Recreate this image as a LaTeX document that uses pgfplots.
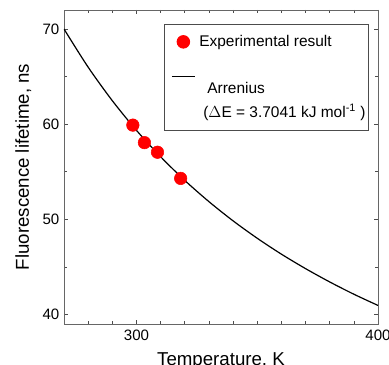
\documentclass[border=0pt]{standalone}
\usepackage{pgfplots}
\pgfplotsset{compat=1.18}
\usepackage{fontspec}
\setmainfont{Liberation Sans}
\pgfplotsset{
 padmark/.style={legend image code/.code={\path[draw=none,fill=none] (-4.75pt,0) rectangle (0.6cm,0);
   \draw[##1] plot[only marks] coordinates {(0.3cm,0cm)};}},
 padline/.style={legend image code/.code={\path[draw=none,fill=none] (-4.75pt,0) rectangle (0.6cm,0);
   \draw[##1] (0cm,0cm) -- (0.6cm,0cm);}},
}
\begin{document}
\begin{tikzpicture}
\begin{axis}[
  name=ax,
  scale only axis,
  width=235.5pt, height=235.5pt,
  xmin=270, xmax=400, ymin=39, ymax=72,
  xtick={300,400}, ytick={40,50,60,70},
  minor xtick={280,290,310,320,330,340,350,360,370,380,390},
  minor ytick={45,55,65},
  tick align=inside,
  major tick length=3pt, minor tick length=2.2pt,
  axis line style={black!60, line width=0.7pt},
  tick style={black!70, line width=0.5pt},
  /pgf/number format/assume math mode=true,
  tick label style={font=\fontsize{11.3pt}{13pt}\selectfont},
  xticklabel style={yshift=-1pt},
  label style={font=\fontsize{14pt}{16pt}\selectfont},
  xlabel={Temperature, K},
  ylabel={Fluorescence lifetime, ns},
  xlabel style={at={(axis description cs:0.5,0)}, anchor=north, yshift=-18pt},
  ylabel style={at={(axis description cs:0,0.5)}, anchor=south, yshift=21pt},
  legend cell align=left,
  legend style={at={(rel axis cs:0.318,0.955)}, anchor=north west,
    draw=black!70, line width=0.7pt,
    font=\fontsize{11.6pt}{14pt}\selectfont,
    inner xsep=1pt, inner ysep=7pt,
    row sep=4.75pt, column sep=0pt,
    nodes={inner sep=1pt}},
]
\addplot[black, line width=0.9pt, smooth, no marks, forget plot] coordinates {
 (270,70.00) (280,65.99) (290,62.47) (300,59.35) (310,56.58) (320,54.09)
 (330,51.86) (340,49.84) (350,48.01) (360,46.34) (370,44.82) (380,43.42)
 (390,42.13) (400,40.95)
};
\addplot[only marks, mark=*, mark size=4.7pt, color=red, mark options={fill=red, draw=red}, padmark]
  coordinates {
 (298.5,59.9) (303.3,58.06) (308.7,57.05) (318.3,54.3)
};
\addlegendentry{\hspace{2pt}Experimental result}
\addlegendimage{black, line width=0.9pt, padline}
\addlegendentry{\rule{0pt}{27pt}\hspace{8pt}Arrenius}
\addlegendimage{empty legend}
\addlegendentry{\rule[-7pt]{0pt}{7pt}\hspace{5pt}(\(\Delta\)E = 3.7041 kJ mol\textsuperscript{-1} )}
\end{axis}
\pgfresetboundingbox
\path[use as bounding box] ([shift={(-48pt,-30.75pt)}]ax.south west) rectangle ([shift={(8.25pt,7.5pt)}]ax.north east);
\end{tikzpicture}
\end{document}
